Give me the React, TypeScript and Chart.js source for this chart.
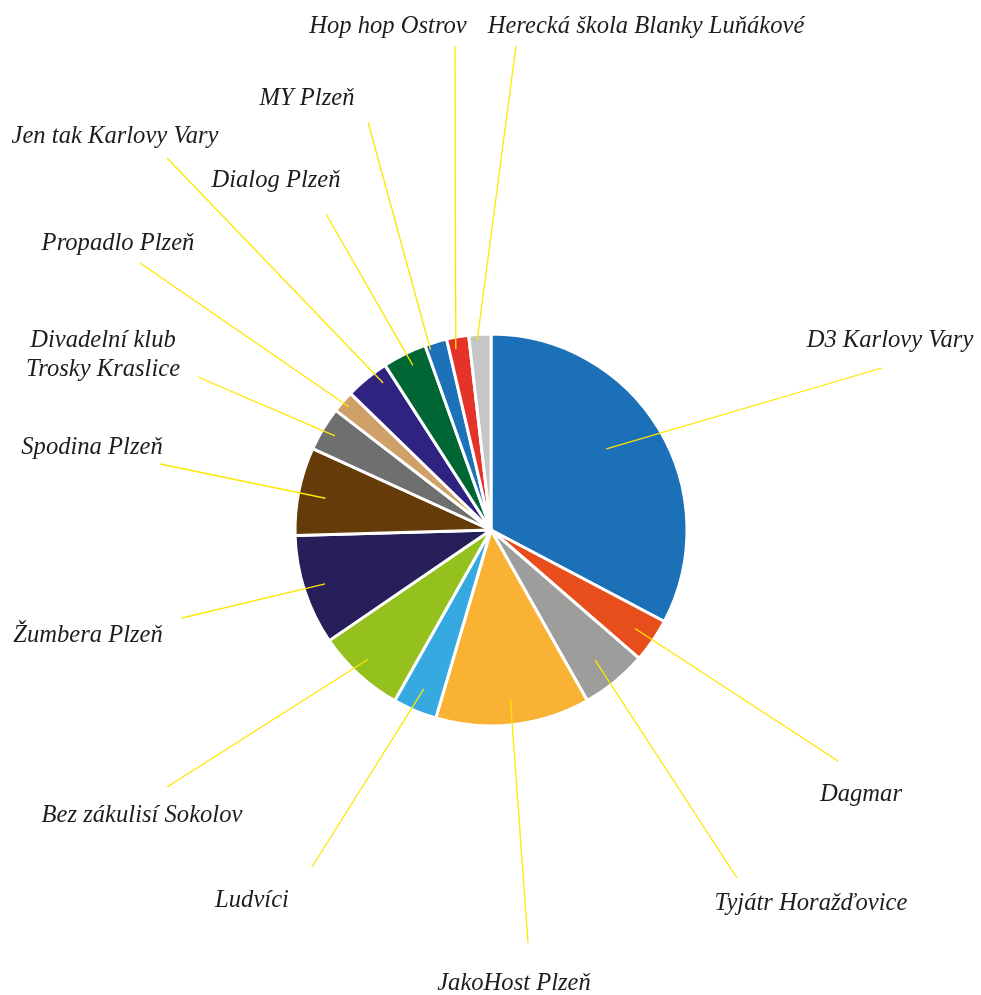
import React, { useEffect, useRef } from "react";
import { Chart, registerables } from "chart.js";

Chart.register(...registerables);

const categories: string[] = [
  "D3 Karlovy Vary",
  "Dagmar",
  "Tyjátr Horažďovice",
  "JakoHost Plzeň",
  "Ludvíci",
  "Bez zákulisí Sokolov",
  "Žumbera Plzeň",
  "Spodina Plzeň",
  "Divadelní klub\nTrosky Kraslice",
  "Propadlo Plzeň",
  "Jen tak Karlovy Vary",
  "Dialog Plzeň",
  "MY Plzeň",
  "Hop hop Ostrov",
  "Herecká škola Blanky Luňákové",
];

const values: number[] = [18, 2, 3, 7, 2, 4, 5, 4, 2, 1, 2, 2, 1, 1, 1];

const colors: string[] = [
  "#1B70B7",
  "#E84E1B",
  "#9D9D9C",
  "#F9B233",
  "#36A9E1",
  "#95C11F",
  "#271F5A",
  "#663B0A",
  "#706F6F",
  "#CFA068",
  "#2E2381",
  "#006633",
  "#1D71B8",
  "#E6332A",
  "#C6C6C6",
];

// Label layout (offsets from pie centre, px): text anchor [x, baseline y]
const labelPos: [number, number][] = [
  [399, -183],
  [370, 271],
  [320, 380],
  [23, 460],
  [-239, 377],
  [-349, 292],
  [-403, 112],
  [-399, -76],
  [-388, -183],
  [-373, -280],
  [-376, -387],
  [-215, -343],
  [-184, -425],
  [-103, -497],
  [155, -497],
];

// Leader line outer end (offsets from pie centre, px)
const leaderEnd: [number, number][] = [
  [391, -162],
  [347, 231],
  [246, 348],
  [37, 413],
  [-179, 337],
  [-324, 257],
  [-309, 88],
  [-331, -66],
  [-293, -153],
  [-351, -267],
  [-324, -372],
  [-165, -316],
  [-123, -408],
  [-36, -484],
  [25, -484],
];

// Leader line inner end: fraction of radius, angle tweak (deg)
const leaderInner: [number, number][] = [
  [0.72, -4],
  [0.89, 0],
  [0.85, 0.6],
  [0.87, 0],
  [0.88, 0],
  [0.91, 1],
  [0.89, 0],
  [0.86, -0.6],
  [0.93, 0],
  [0.96, 0],
  [0.93, 3],
  [0.93, 0.8],
  [0.97, -2.2],
  [0.94, -1.2],
  [0.97, -0.9],
];

const labelPlugin = {
  id: "leaderLabels",
  afterDatasetsDraw(chart: any) {
    const ctx = chart.ctx as CanvasRenderingContext2D;
    const meta = chart.getDatasetMeta(0);
    ctx.save();
    meta.data.forEach((arc: any, i: number) => {
      const p = arc.getProps(["x", "y", "startAngle", "endAngle", "outerRadius"], true);
      const [frac, tweak] = leaderInner[i];
      const mid = (p.startAngle + p.endAngle) / 2 + (tweak * Math.PI) / 180;
      const ix = p.x + Math.cos(mid) * p.outerRadius * frac;
      const iy = p.y + Math.sin(mid) * p.outerRadius * frac;
      const ox = p.x + leaderEnd[i][0];
      const oy = p.y + leaderEnd[i][1];
      ctx.strokeStyle = "#FFE600";
      ctx.lineWidth = 1.3;
      ctx.beginPath();
      ctx.moveTo(ix, iy);
      ctx.lineTo(ox, oy);
      ctx.stroke();

      ctx.fillStyle = "#1D1D1B";
      ctx.font = "italic 24.6px 'Liberation Serif', 'DejaVu Serif', serif";
      ctx.textAlign = "center";
      ctx.textBaseline = "alphabetic";
      const lines = categories[i].split("\n");
      lines.forEach((ln, k) => {
        ctx.fillText(ln, p.x + labelPos[i][0], p.y + labelPos[i][1] + k * 29);
      });
    });
    ctx.restore();
  },
};

export default function App() {
  const ref = useRef<HTMLCanvasElement | null>(null);
  useEffect(() => {
    if (!ref.current) return;
    const chart = new Chart(ref.current, {
      type: "pie",
      data: {
        labels: categories,
        datasets: [
          {
            data: values,
            backgroundColor: colors,
            borderColor: "#FFFFFF",
            borderWidth: 3,
            radius: 196,
          } as any,
        ],
      },
      options: {
        responsive: false,
        animation: false,
        devicePixelRatio: 1,
        layout: { padding: { left: 1, top: 65, right: 0, bottom: 0 } },
        plugins: {
          legend: { display: false },
          tooltip: { enabled: false },
        },
      },
      plugins: [labelPlugin],
    });
    return () => chart.destroy();
  }, []);
  return (
    <div style={{ position: "absolute", left: 0, top: 0, width: 981, height: 995, background: "#fff" }}>
      <canvas ref={ref} width={981} height={995} />
    </div>
  );
}
